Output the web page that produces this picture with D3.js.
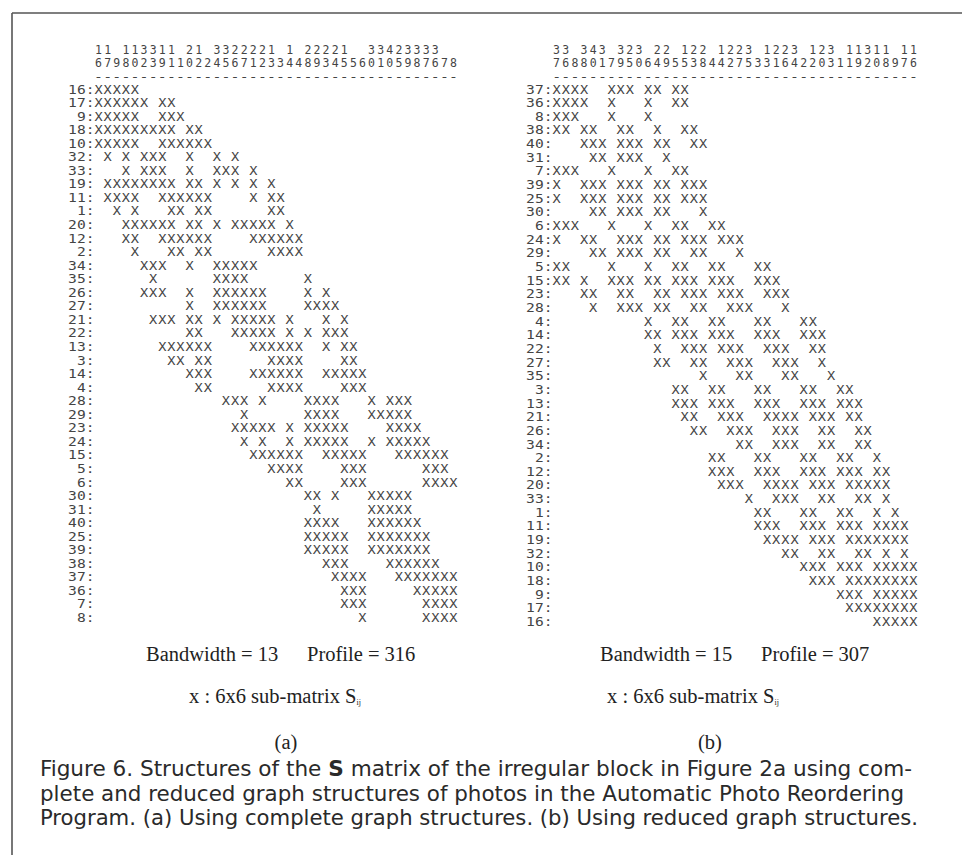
<!DOCTYPE html>
<html><head><meta charset="utf-8">
<script src="https://cdn.jsdelivr.net/npm/d3@7"></script>
<style>body{margin:0;background:#fff}</style>
</head><body><svg id="c" width="962" height="855"></svg>
<script>
// ---- Data: node order (rows = columns), and nonzero blocks per row (column positions, 1-based runs)
const orderA = [16,17,9,18,10,32,33,19,11,1,20,12,2,34,35,26,27,21,22,13,3,14,4,28,29,23,24,15,5,6,30,31,40,25,39,38,37,36,7,8];
const blocksA = [
  "1-5","1-6,8-9","1-5,8-10","1-9,11-12","1-5,8-13",
  "2,4,6-8,11,14,16","4,6-8,11,14-16,18","2-9,11-12,14,16,18,20","2-5,8-13,18,20-21","3,5,9-10,12-13,20-21",
  "4-9,11-12,14,16-20,22","4-5,8-13,18-23","5,9-10,12-13,20-23","6-8,11,14-18","7,14-17,24",
  "6-8,11,14-19,24,26","11,14-19,24-27","7-9,11-12,14,16-20,22,26,28","11-12,16-20,22,24,26-28","8-13,18-23,26,28-29",
  "9-10,12-13,20-23,28-29","11-13,18-23,26-30","12-13,20-23,28-30","15-17,19,24-27,31,33-35","17,24-27,31-35",
  "16-20,22,24-28,33-36","17,19,22,24-28,31,33-37","18-23,26-30,34-39","20-23,28-30,37-39","22-23,28-30,37-40",
  "24-25,27,31-35","25,31-35","24-27,31-36","24-28,31-37","24-28,31-37",
  "26-28,33-38","27-30,34-40","28-30,36-40","28-30,37-40","30,37-40"
];
const orderB = [37,36,8,38,40,31,7,39,25,30,6,24,29,5,15,23,28,4,14,22,27,35,3,13,21,26,34,2,12,20,33,1,11,19,32,10,18,9,17,16];
const blocksB = [
  "1-4,7-9,11-12,14-15","1-4,7,11,14-15","1-3,7,11","1-2,4-5,8-9,12,15-16","4-6,8-10,12-13,16-17",
  "5-6,8-10,13","1-3,7,11,14-15","1,4-6,8-10,12-13,15-17","1,4-6,8-10,12-13,15-17","5-6,8-10,12-13,17",
  "1-3,7,11,14-15,18-19","1,4-5,8-10,12-13,15-17,19-21","5-6,8-10,12-13,16-17,21","1-2,7,11,14-15,18-19,23-24","1-2,4,7-9,11-12,14-16,18-20,23-25",
  "4-5,8-9,12-13,15-17,19-21,24-26","5,8-10,12-13,16-17,20-22,26","11,14-15,18-19,23-24,28-29","11-12,14-16,18-20,23-25,28-30","12,15-17,19-21,24-26,29-30",
  "12-13,16-17,20-22,25-27,30","17,21-22,26-27,31","14-15,18-19,23-24,28-29,32-33","14-16,18-20,23-25,28-30,32-34","15-16,19-21,24-27,29-31,33-34",
  "16-17,20-22,25-27,30-31,34-35","21-22,25-27,30-31,34-35","18-19,23-24,28-29,32-33,36","18-20,23-25,28-30,32-34,36-37","19-21,24-27,29-31,33-37",
  "22,25-27,30-31,34-35,37","23-24,28-29,32-33,36,38","23-25,28-30,32-34,36-39","24-27,29-31,33-39","26-27,30-31,34-35,37,39",
  "28-30,32-34,36-40","29-31,33-40","32-34,36-40","33-40","36-40"
];
const bandwidth = [13, 15];
const profile = [316, 307];
const panelTags = ["(a)", "(b)"];
const captionLines = [
  ["Figure 6. Structures of the ", "S", " matrix of the irregular block in Figure 2a using com-"],
  ["plete and reduced graph structures of photos in the Automatic Photo Reordering"],
  ["Program. (a) Using complete graph structures. (b) Using reduced graph structures."]
];

function parseRuns(s){
  const out=[];
  s.split(",").forEach(p=>{
    const [a,b]=p.split("-").map(Number);
    for(let k=a;k<=(b||a);k++) out.push(k-1);
  });
  return out;
}

const svg = d3.select("#c");
svg.append("rect").attr("width",962).attr("height",855).attr("fill","#fff");
// frame
svg.append("line").attr("x1",12).attr("x2",962).attr("y1",13).attr("y2",13).attr("stroke","#555").attr("stroke-width",1.6);
svg.append("line").attr("x1",12).attr("x2",12).attr("y1",13).attr("y2",855).attr("stroke","#555").attr("stroke-width",1.6);

const MONO = "'DejaVu Sans Mono','Liberation Mono',monospace";
const SERIF = "'Liberation Serif','DejaVu Serif',serif";
const INK = "#444";
const FS = 11.5;

const panels = [
  {order:orderA, blocks:blocksA, xr:[94,458], yr:[89.5,618], bw:[146,307], xl:189, tag:286},
  {order:orderB, blocks:blocksB, xr:[552,918], yr:[89.5,622], bw:[600,761], xl:607, tag:710}
];

panels.forEach((P,pi)=>{
  const g = svg.append("g");
  const x = d3.scaleBand().domain(d3.range(40)).range(P.xr);
  const y = d3.scalePoint().domain(d3.range(P.order.length)).range(P.yr);
  const cx = i => x(i)+x.bandwidth()/2;
  const txt = (sel)=>sel.attr("font-family",MONO).attr("font-size",FS).attr("fill",INK).attr("dy","0.35em");

  // column header: tens and units digits, then the dashed rule
  g.selectAll("text.t").data(P.order).join("text").attr("class","t").call(txt)
    .attr("x",(d,i)=>cx(i)).attr("y",49.5).attr("text-anchor","middle")
    .text(d=>d>=10?Math.floor(d/10):"");
  g.selectAll("text.u").data(P.order).join("text").attr("class","u").call(txt)
    .attr("x",(d,i)=>cx(i)).attr("y",63).attr("text-anchor","middle")
    .text(d=>d%10);
  g.selectAll("text.d").data(P.order).join("text").attr("class","d").call(txt)
    .attr("x",(d,i)=>cx(i)).attr("y",76.2).attr("text-anchor","middle")
    .attr("font-size",13).attr("textLength",8.9).attr("lengthAdjust","spacingAndGlyphs").text("-");

  // row labels
  g.selectAll("text.r").data(P.order).join("text").attr("class","r").call(txt)
    .attr("x",P.xr[0]+0.5).attr("y",(d,i)=>y(i)).attr("text-anchor","end")
    .attr("textLength",d=>(String(d).length+1)*8.8).attr("lengthAdjust","spacingAndGlyphs")
    .text(d=>d+":");

  // cells
  const cells = [];
  P.blocks.forEach((s,ri)=>parseRuns(s).forEach(ci=>cells.push({r:ri,c:ci})));
  g.selectAll("text.x").data(cells).join("text").attr("class","x").call(txt)
    .attr("x",d=>cx(d.c)).attr("y",d=>y(d.r)).attr("text-anchor","middle")
    .attr("textLength",8.2).attr("lengthAdjust","spacingAndGlyphs")
    .text("X");

  // notes under the matrix
  const ser = (sel)=>sel.attr("font-family",SERIF).attr("font-size",20.5).attr("fill","#222");
  g.append("text").call(ser).attr("x",P.bw[0]).attr("y",661).text("Bandwidth = "+bandwidth[pi]);
  g.append("text").call(ser).attr("x",P.bw[1]).attr("y",661).text("Profile = "+profile[pi]);
  const t2 = g.append("text").call(ser).attr("x",P.xl).attr("y",703);
  t2.append("tspan").text("x : 6x6 sub-matrix S");
  t2.append("tspan").attr("font-size",8).attr("dy",2).text("ij");
  g.append("text").call(ser).attr("x",P.tag).attr("y",749).attr("text-anchor","middle").text(panelTags[pi]);
});

// caption
const capY = [776, 801, 825];
const capW = [872, 864, 878];
captionLines.forEach((parts,li)=>{
  const t = svg.append("text").attr("x",40).attr("y",capY[li])
    .attr("font-family","'DejaVu Sans Condensed','Liberation Sans',sans-serif")
    .attr("font-size",20.5).attr("fill","#2a2a2a")
    .attr("textLength",capW[li]).attr("lengthAdjust","spacingAndGlyphs");
  parts.forEach(p=>{
    const s = t.append("tspan").text(p);
    if(p==="S") s.attr("font-weight","bold");
  });
});
</script></body></html>
